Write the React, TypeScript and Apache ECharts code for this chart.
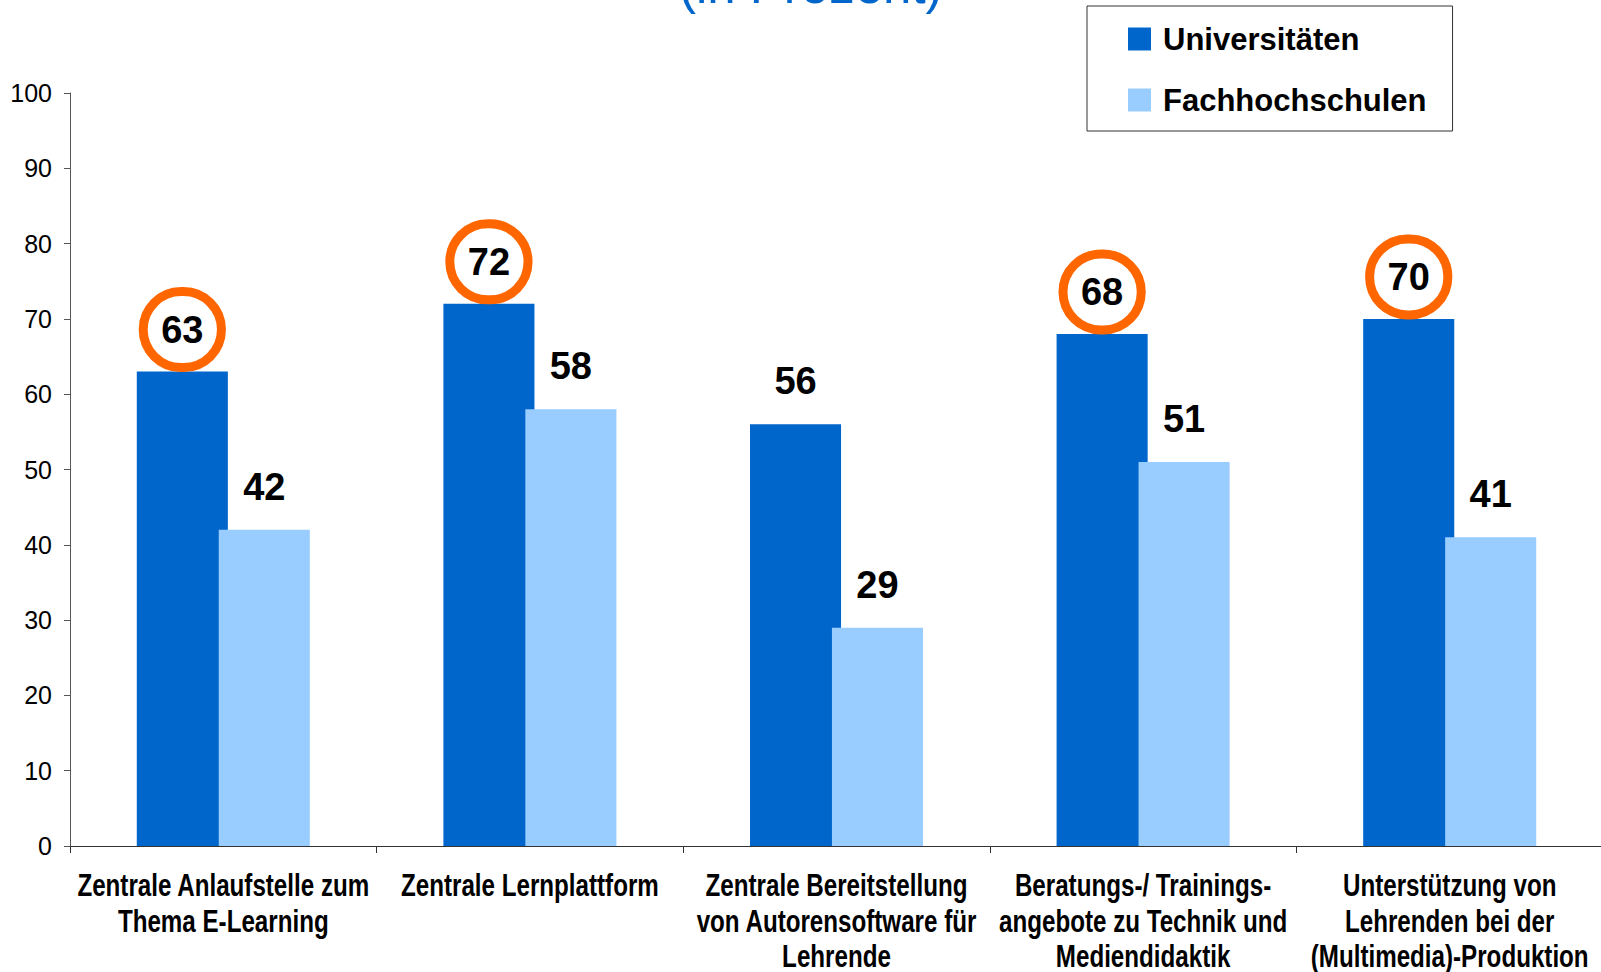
import React, { useEffect, useRef } from "react";
import * as echarts from "echarts";

const categories = [
  "Zentrale Anlaufstelle zum\nThema E-Learning",
  "Zentrale Lernplattform",
  "Zentrale Bereitstellung\nvon Autorensoftware für\nLehrende",
  "Beratungs-/ Trainings-\nangebote zu Technik und\nMediendidaktik",
  "Unterstützung von\nLehrenden bei der\n(Multimedia)-Produktion",
];
const seriesNames = ["Universitäten", "Fachhochschulen"];
const universitaeten = [63, 72, 56, 68, 70];
const fachhochschulen = [42, 58, 29, 51, 41];
const circled = [true, true, false, true, true];
const yMin = 0;
const yMax = 100;
const yInterval = 10;
const titleText = "(in Prozent)";

const DARK = "#0066CC";
const LIGHT = "#99CCFF";
const FONT = "'Liberation Sans', Arial, sans-serif";

export default function App() {
  const ref = useRef<HTMLDivElement>(null);
  useEffect(() => {
    if (!ref.current) return;
    const chart = echarts.init(ref.current, null, { renderer: "svg" });
    const baseLabel = {
      show: true,
      position: "top",
      distance: 24,
      color: "#000",
      fontFamily: FONT,
      fontWeight: "bold",
      fontSize: 38,
      lineHeight: 38,
    };
    const circleLabel = {
      ...baseLabel,
      distance: 4,
      borderColor: "#FF6600",
      borderWidth: 9,
      borderRadius: 44,
      padding: [19, 18, 19, 18],
    };
    const titleGraphic = {
      type: "text",
      left: 679,
      top: -40,
      style: {
        text: titleText,
        fill: "#0066CC",
        fontFamily: FONT,
        fontSize: 51,
      },
    };
    chart.setOption({
      animation: false,
      graphic: [titleGraphic],
      legend: {
        orient: "vertical",
        left: 1087,
        top: 6,
        padding: [17, 26, 15, 41],
        borderColor: "#333",
        borderWidth: 1,
        itemWidth: 23,
        itemHeight: 23,
        itemGap: 29,
        icon: "rect",
        selectedMode: false,
        textStyle: {
          color: "#000",
          fontFamily: FONT,
          fontWeight: "bold",
          fontSize: 31,
          lineHeight: 32,
          padding: [0, 0, 0, 7],
        },
        data: seriesNames,
      },
      grid: {
        left: 70,
        top: 93,
        width: 1533,
        bottom: 126,
        containLabel: false,
        outerBoundsMode: "none",
      },
      xAxis: {
        type: "category",
        data: categories,
        axisLine: { show: true, lineStyle: { color: "#333", width: 1 } },
        axisTick: { show: true, length: 7, lineStyle: { color: "#333" } },
        axisLabel: { show: false },
      },
      yAxis: {
        type: "value",
        min: yMin,
        max: yMax,
        interval: yInterval,
        splitLine: { show: false },
        axisLine: { show: true, lineStyle: { color: "#555", width: 1 } },
        axisTick: { show: true, length: 6, lineStyle: { color: "#555" } },
        axisLabel: {
          margin: 18,
          color: "#000",
          fontFamily: FONT,
          fontSize: 25,
        },
      },
      series: [
        {
          name: seriesNames[0],
          type: "bar",
          barWidth: "29.7%",
          barGap: "-10%",
          itemStyle: { color: DARK },
          label: baseLabel,
          data: universitaeten.map((v, i) =>
            circled[i] ? { value: v, label: circleLabel } : v
          ),
        },
        {
          name: seriesNames[1],
          type: "bar",
          barWidth: "29.7%",
          barGap: "-10%",
          itemStyle: { color: LIGHT },
          label: baseLabel,
          data: fachhochschulen,
        },
      ],
    });
    // Condensed category labels, positioned through the axis scales
    const y0 = chart.convertToPixel({ yAxisIndex: 0 }, yMin) as number;
    const catLabels = categories.map((c, i) => {
      const cx = chart.convertToPixel({ xAxisIndex: 0 }, i) as number;
      return {
        type: "text",
        x: cx,
        y: y0 + 22,
        scaleX: 0.78,
        style: {
          text: c,
          align: "center",
          verticalAlign: "top",
          fill: "#000",
          fontFamily: FONT,
          fontWeight: "bold",
          fontSize: 31,
          lineHeight: 35.5,
        },
      };
    });
    chart.setOption({ graphic: [titleGraphic, ...catLabels] });
    return () => chart.dispose();
  }, []);
  return (
    <div
      ref={ref}
      style={{ position: "absolute", left: 0, top: 0, width: 1601, height: 972, background: "#fff" }}
    />
  );
}
